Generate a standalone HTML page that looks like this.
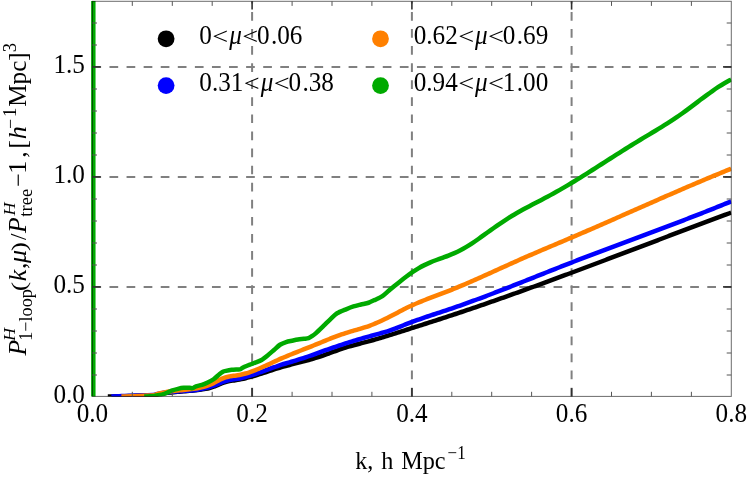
<!DOCTYPE html>
<html><head><meta charset="utf-8"><title>plot</title>
<style>
html,body{margin:0;padding:0;background:#fff;}
body{width:747px;height:478px;overflow:hidden;}
svg{display:block;}
text{font-family:"Liberation Serif",serif;fill:#000;}
.i{font-style:italic;}
</style></head><body>
<svg width="747" height="478" viewBox="0 0 747 478">
<rect x="0" y="0" width="747" height="478" fill="#fff"/>
<defs><clipPath id="c"><rect x="92.4" y="1.3" width="638.9" height="395.1"/></clipPath></defs>

<g stroke="#808080" stroke-width="2" fill="none">
<line x1="92.4" y1="286.9" x2="731.3" y2="286.9" stroke-dasharray="8.7 8.38"/>
<line x1="92.4" y1="176.9" x2="731.3" y2="176.9" stroke-dasharray="8.7 8.38"/>
<line x1="92.4" y1="66.9" x2="731.3" y2="66.9" stroke-dasharray="8.7 8.38"/>
<line x1="252.1" y1="396.4" x2="252.1" y2="1.3" stroke-dasharray="8.7 8.38"/>
<line x1="411.9" y1="396.4" x2="411.9" y2="1.3" stroke-dasharray="8.7 8.38"/>
<line x1="571.6" y1="396.4" x2="571.6" y2="1.3" stroke-dasharray="8.7 8.38"/>
</g>
<g clip-path="url(#c)" fill="none" stroke-width="4.5" stroke-linejoin="round" stroke-linecap="butt">
<path d="M107.80,396.40 C110.29,396.39 116.96,396.43 121.40,396.35 C125.84,396.27 128.08,396.10 132.00,395.95 C135.92,395.80 138.86,395.67 142.80,395.55 C146.74,395.43 150.81,395.50 153.50,395.29 C156.19,395.08 156.03,394.72 157.50,394.43 C158.97,394.14 160.03,393.95 161.50,393.71 C162.97,393.47 164.03,393.31 165.50,393.11 C166.97,392.91 168.03,392.78 169.50,392.62 C170.97,392.45 172.03,392.34 173.50,392.20 C174.97,392.06 176.03,391.96 177.50,391.84 C178.97,391.71 180.03,391.62 181.50,391.50 C182.97,391.38 184.03,391.30 185.50,391.18 C186.97,391.06 188.03,390.97 189.50,390.84 C190.97,390.71 192.03,390.62 193.50,390.47 C194.97,390.32 196.03,390.21 197.50,390.03 C198.97,389.86 200.03,389.73 201.50,389.52 C202.97,389.30 204.03,389.16 205.50,388.88 C206.97,388.60 208.03,388.39 209.50,388.00 C210.97,387.61 212.03,387.29 213.50,386.75 C214.97,386.21 216.03,385.69 217.50,385.07 C218.97,384.44 220.03,383.89 221.50,383.33 C222.97,382.77 224.03,382.40 225.50,381.99 C226.97,381.58 228.03,381.38 229.50,381.11 C230.97,380.83 232.03,380.69 233.50,380.47 C234.97,380.24 236.03,380.11 237.50,379.86 C238.97,379.62 240.03,379.42 241.50,379.12 C242.97,378.82 244.03,378.58 245.50,378.22 C246.97,377.87 248.03,377.59 249.50,377.19 C250.97,376.79 252.03,376.49 253.50,376.05 C254.97,375.62 256.03,375.29 257.50,374.83 C258.97,374.37 260.03,374.03 261.50,373.55 C262.97,373.08 264.03,372.72 265.50,372.24 C266.97,371.76 268.03,371.40 269.50,370.92 C270.97,370.44 272.03,370.09 273.50,369.62 C274.97,369.15 276.03,368.81 277.50,368.36 C278.97,367.91 280.03,367.59 281.50,367.16 C282.97,366.73 284.03,366.44 285.50,366.04 C286.97,365.63 288.03,365.35 289.50,364.97 C290.97,364.58 292.03,364.31 293.50,363.93 C294.97,363.56 296.03,363.29 297.50,362.91 C298.97,362.54 300.03,362.27 301.50,361.89 C302.97,361.51 304.03,361.23 305.50,360.83 C306.97,360.44 308.03,360.15 309.50,359.74 C310.97,359.32 312.03,359.02 313.50,358.58 C314.97,358.13 316.03,357.80 317.50,357.33 C318.97,356.86 320.03,356.50 321.50,356.00 C322.97,355.50 324.03,355.12 325.50,354.60 C326.97,354.09 328.03,353.70 329.50,353.17 C330.97,352.65 332.03,352.26 333.50,351.74 C334.97,351.22 336.03,350.83 337.50,350.32 C338.97,349.81 340.03,349.44 341.50,348.95 C342.97,348.46 344.03,348.11 345.50,347.65 C346.97,347.19 348.03,346.87 349.50,346.44 C350.97,346.01 352.03,345.72 353.50,345.31 C354.97,344.91 356.03,344.63 357.50,344.24 C358.97,343.85 360.03,343.58 361.50,343.19 C362.97,342.81 364.03,342.54 365.50,342.15 C366.97,341.76 368.03,341.48 369.50,341.08 C370.97,340.68 372.03,340.39 373.50,339.98 C374.97,339.56 376.03,339.26 377.50,338.83 C378.97,338.41 380.03,338.09 381.50,337.65 C382.97,337.22 384.03,336.90 385.50,336.45 C386.97,336.00 388.03,335.67 389.50,335.22 C390.97,334.77 392.03,334.43 393.50,333.97 C394.97,333.51 396.03,333.17 397.50,332.71 C398.97,332.24 400.03,331.90 401.50,331.43 C402.97,330.97 404.03,330.62 405.50,330.15 C406.97,329.68 408.03,329.34 409.50,328.87 C410.97,328.40 412.03,328.06 413.50,327.59 C414.97,327.12 416.03,326.78 417.50,326.32 C418.97,325.85 420.03,325.51 421.50,325.04 C422.97,324.57 424.03,324.23 425.50,323.76 C426.97,323.29 428.03,322.95 429.50,322.47 C430.97,322.00 432.03,321.66 433.50,321.19 C434.97,320.72 436.03,320.37 437.50,319.90 C438.97,319.42 440.03,319.08 441.50,318.60 C442.97,318.12 444.03,317.78 445.50,317.30 C446.97,316.82 448.03,316.47 449.50,315.98 C450.97,315.50 452.03,315.15 453.50,314.66 C454.97,314.18 456.03,313.82 457.50,313.33 C458.97,312.84 460.03,312.49 461.50,312.00 C462.97,311.50 464.03,311.15 465.50,310.65 C466.97,310.16 468.03,309.80 469.50,309.30 C470.97,308.80 472.03,308.44 473.50,307.94 C474.97,307.44 476.03,307.07 477.50,306.57 C478.97,306.07 480.03,305.70 481.50,305.20 C482.97,304.69 484.03,304.32 485.50,303.81 C486.97,303.31 488.03,302.94 489.50,302.43 C490.97,301.91 492.03,301.54 493.50,301.03 C494.97,300.52 496.03,300.14 497.50,299.63 C498.97,299.11 500.03,298.74 501.50,298.22 C502.97,297.70 504.03,297.33 505.50,296.81 C506.97,296.29 508.03,295.91 509.50,295.39 C510.97,294.87 512.03,294.48 513.50,293.96 C514.97,293.44 516.03,293.06 517.50,292.53 C518.97,292.00 520.03,291.62 521.50,291.09 C522.97,290.57 524.03,290.18 525.50,289.65 C526.97,289.12 528.03,288.74 529.50,288.20 C530.97,287.67 532.03,287.29 533.50,286.75 C534.97,286.22 536.03,285.83 537.50,285.30 C538.97,284.76 540.03,284.37 541.50,283.83 C542.97,283.30 544.03,282.91 545.50,282.37 C546.97,281.83 548.03,281.44 549.50,280.90 C550.97,280.36 552.03,279.97 553.50,279.43 C554.97,278.88 556.03,278.49 557.50,277.95 C558.97,277.41 560.03,277.01 561.50,276.47 C562.97,275.92 564.03,275.53 565.50,274.98 C566.97,274.44 568.03,274.04 569.50,273.49 C570.97,272.95 572.03,272.55 573.50,272.00 C574.97,271.46 576.03,271.06 577.50,270.51 C578.97,269.96 580.03,269.56 581.50,269.01 C582.97,268.46 584.03,268.06 585.50,267.51 C586.97,266.96 588.03,266.56 589.50,266.01 C590.97,265.46 592.03,265.06 593.50,264.50 C594.97,263.95 596.03,263.55 597.50,263.00 C598.97,262.45 600.03,262.04 601.50,261.49 C602.97,260.94 604.03,260.53 605.50,259.98 C606.97,259.43 608.03,259.02 609.50,258.47 C610.97,257.91 612.03,257.51 613.50,256.95 C614.97,256.40 616.03,256.00 617.50,255.44 C618.97,254.89 620.03,254.48 621.50,253.93 C622.97,253.37 624.03,252.96 625.50,252.41 C626.97,251.85 628.03,251.45 629.50,250.89 C630.97,250.34 632.03,249.93 633.50,249.37 C634.97,248.82 636.03,248.41 637.50,247.86 C638.97,247.30 640.03,246.89 641.50,246.34 C642.97,245.78 644.03,245.38 645.50,244.82 C646.97,244.26 648.03,243.86 649.50,243.30 C650.97,242.75 652.03,242.34 653.50,241.78 C654.97,241.23 656.03,240.82 657.50,240.27 C658.97,239.71 660.03,239.31 661.50,238.75 C662.97,238.19 664.03,237.79 665.50,237.23 C666.97,236.68 668.03,236.28 669.50,235.72 C670.97,235.16 672.03,234.76 673.50,234.21 C674.97,233.65 676.03,233.25 677.50,232.69 C678.97,232.14 680.03,231.74 681.50,231.18 C682.97,230.63 684.03,230.23 685.50,229.68 C686.97,229.12 688.03,228.72 689.50,228.17 C690.97,227.62 692.03,227.22 693.50,226.66 C694.97,226.11 696.03,225.71 697.50,225.16 C698.97,224.61 700.03,224.21 701.50,223.66 C702.97,223.11 704.03,222.71 705.50,222.16 C706.97,221.62 708.03,221.22 709.50,220.67 C710.97,220.12 712.03,219.72 713.50,219.18 C714.97,218.63 716.03,218.23 717.50,217.69 C718.97,217.14 720.03,216.75 721.50,216.20 C722.97,215.66 724.03,215.26 725.50,214.72 C726.97,214.18 728.46,213.63 729.50,213.24 C730.54,212.86 730.89,212.73 731.20,212.62" stroke="#000"/>
<path d="M111.40,396.40 C113.23,396.34 117.62,396.24 121.40,396.10 C125.18,395.96 128.08,395.81 132.00,395.65 C135.92,395.49 138.86,395.37 142.80,395.25 C146.74,395.13 150.81,395.25 153.50,395.01 C156.19,394.78 156.03,394.33 157.50,393.99 C158.97,393.66 160.03,393.45 161.50,393.19 C162.97,392.93 164.03,392.77 165.50,392.57 C166.97,392.36 168.03,392.24 169.50,392.09 C170.97,391.93 172.03,391.84 173.50,391.72 C174.97,391.59 176.03,391.52 177.50,391.41 C178.97,391.31 180.03,391.24 181.50,391.15 C182.97,391.05 184.03,390.98 185.50,390.87 C186.97,390.77 188.03,390.69 189.50,390.56 C190.97,390.43 192.03,390.33 193.50,390.17 C194.97,390.00 196.03,389.88 197.50,389.66 C198.97,389.45 200.03,389.28 201.50,389.00 C202.97,388.73 204.03,388.51 205.50,388.16 C206.97,387.80 208.03,387.52 209.50,387.07 C210.97,386.62 212.03,386.25 213.50,385.70 C214.97,385.15 216.03,384.66 217.50,384.05 C218.97,383.45 220.03,382.95 221.50,382.39 C222.97,381.83 224.03,381.45 225.50,381.02 C226.97,380.59 228.03,380.34 229.50,380.03 C230.97,379.72 232.03,379.58 233.50,379.34 C234.97,379.11 236.03,379.00 237.50,378.76 C238.97,378.51 240.03,378.32 241.50,378.01 C242.97,377.70 244.03,377.44 245.50,377.06 C246.97,376.68 248.03,376.38 249.50,375.94 C250.97,375.51 252.03,375.17 253.50,374.69 C254.97,374.21 256.03,373.84 257.50,373.33 C258.97,372.82 260.03,372.43 261.50,371.90 C262.97,371.36 264.03,370.96 265.50,370.42 C266.97,369.88 268.03,369.48 269.50,368.93 C270.97,368.39 272.03,368.00 273.50,367.47 C274.97,366.94 276.03,366.56 277.50,366.06 C278.97,365.55 280.03,365.20 281.50,364.73 C282.97,364.26 284.03,363.93 285.50,363.49 C286.97,363.04 288.03,362.73 289.50,362.30 C290.97,361.87 292.03,361.57 293.50,361.14 C294.97,360.71 296.03,360.40 297.50,359.95 C298.97,359.51 300.03,359.19 301.50,358.72 C302.97,358.26 304.03,357.91 305.50,357.41 C306.97,356.91 308.03,356.53 309.50,356.00 C310.97,355.48 312.03,355.09 313.50,354.55 C314.97,354.02 316.03,353.62 317.50,353.09 C318.97,352.56 320.03,352.17 321.50,351.65 C322.97,351.13 324.03,350.75 325.50,350.23 C326.97,349.71 328.03,349.34 329.50,348.83 C330.97,348.32 332.03,347.96 333.50,347.46 C334.97,346.96 336.03,346.60 337.50,346.11 C338.97,345.62 340.03,345.26 341.50,344.78 C342.97,344.30 344.03,343.95 345.50,343.48 C346.97,343.01 348.03,342.67 349.50,342.21 C350.97,341.75 352.03,341.42 353.50,340.97 C354.97,340.52 356.03,340.19 357.50,339.75 C358.97,339.31 360.03,339.00 361.50,338.57 C362.97,338.14 364.03,337.83 365.50,337.42 C366.97,337.00 368.03,336.70 369.50,336.30 C370.97,335.89 372.03,335.60 373.50,335.20 C374.97,334.80 376.03,334.51 377.50,334.10 C378.97,333.70 380.03,333.40 381.50,332.98 C382.97,332.55 384.03,332.24 385.50,331.79 C386.97,331.34 388.03,331.00 389.50,330.51 C390.97,330.02 392.03,329.65 393.50,329.12 C394.97,328.59 396.03,328.18 397.50,327.62 C398.97,327.05 400.03,326.62 401.50,326.04 C402.97,325.46 404.03,325.03 405.50,324.45 C406.97,323.87 408.03,323.45 409.50,322.89 C410.97,322.32 412.03,321.92 413.50,321.38 C414.97,320.84 416.03,320.46 417.50,319.94 C418.97,319.41 420.03,319.04 421.50,318.54 C422.97,318.03 424.03,317.67 425.50,317.17 C426.97,316.68 428.03,316.32 429.50,315.83 C430.97,315.35 432.03,315.00 433.50,314.51 C434.97,314.03 436.03,313.68 437.50,313.20 C438.97,312.72 440.03,312.37 441.50,311.89 C442.97,311.40 444.03,311.05 445.50,310.56 C446.97,310.07 448.03,309.71 449.50,309.22 C450.97,308.72 452.03,308.36 453.50,307.85 C454.97,307.35 456.03,306.98 457.50,306.46 C458.97,305.95 460.03,305.58 461.50,305.06 C462.97,304.54 464.03,304.16 465.50,303.63 C466.97,303.11 468.03,302.72 469.50,302.19 C470.97,301.66 472.03,301.27 473.50,300.73 C474.97,300.20 476.03,299.80 477.50,299.26 C478.97,298.72 480.03,298.32 481.50,297.77 C482.97,297.22 484.03,296.82 485.50,296.27 C486.97,295.72 488.03,295.31 489.50,294.75 C490.97,294.20 492.03,293.79 493.50,293.23 C494.97,292.67 496.03,292.26 497.50,291.69 C498.97,291.13 500.03,290.71 501.50,290.14 C502.97,289.58 504.03,289.16 505.50,288.59 C506.97,288.02 508.03,287.60 509.50,287.03 C510.97,286.45 512.03,286.03 513.50,285.46 C514.97,284.88 516.03,284.46 517.50,283.88 C518.97,283.30 520.03,282.88 521.50,282.30 C522.97,281.72 524.03,281.30 525.50,280.72 C526.97,280.14 528.03,279.71 529.50,279.13 C530.97,278.55 532.03,278.12 533.50,277.54 C534.97,276.96 536.03,276.53 537.50,275.95 C538.97,275.37 540.03,274.94 541.50,274.36 C542.97,273.78 544.03,273.35 545.50,272.77 C546.97,272.19 548.03,271.77 549.50,271.18 C550.97,270.60 552.03,270.18 553.50,269.60 C554.97,269.02 556.03,268.60 557.50,268.02 C558.97,267.44 560.03,267.02 561.50,266.45 C562.97,265.87 564.03,265.45 565.50,264.88 C566.97,264.30 568.03,263.88 569.50,263.31 C570.97,262.74 572.03,262.33 573.50,261.76 C574.97,261.19 576.03,260.78 577.50,260.21 C578.97,259.65 580.03,259.24 581.50,258.67 C582.97,258.11 584.03,257.70 585.50,257.14 C586.97,256.58 588.03,256.17 589.50,255.61 C590.97,255.06 592.03,254.65 593.50,254.09 C594.97,253.54 596.03,253.13 597.50,252.58 C598.97,252.02 600.03,251.62 601.50,251.07 C602.97,250.52 604.03,250.12 605.50,249.56 C606.97,249.01 608.03,248.61 609.50,248.06 C610.97,247.51 612.03,247.11 613.50,246.56 C614.97,246.01 616.03,245.61 617.50,245.07 C618.97,244.52 620.03,244.12 621.50,243.57 C622.97,243.03 624.03,242.63 625.50,242.08 C626.97,241.53 628.03,241.14 629.50,240.59 C630.97,240.04 632.03,239.64 633.50,239.10 C634.97,238.55 636.03,238.15 637.50,237.61 C638.97,237.06 640.03,236.66 641.50,236.12 C642.97,235.57 644.03,235.17 645.50,234.62 C646.97,234.08 648.03,233.68 649.50,233.13 C650.97,232.58 652.03,232.18 653.50,231.63 C654.97,231.08 656.03,230.68 657.50,230.13 C658.97,229.58 660.03,229.18 661.50,228.63 C662.97,228.08 664.03,227.68 665.50,227.12 C666.97,226.57 668.03,226.17 669.50,225.61 C670.97,225.06 672.03,224.65 673.50,224.10 C674.97,223.54 676.03,223.13 677.50,222.58 C678.97,222.02 680.03,221.61 681.50,221.05 C682.97,220.49 684.03,220.08 685.50,219.51 C686.97,218.95 688.03,218.54 689.50,217.97 C690.97,217.41 692.03,217.00 693.50,216.43 C694.97,215.86 696.03,215.44 697.50,214.87 C698.97,214.30 700.03,213.88 701.50,213.30 C702.97,212.73 704.03,212.31 705.50,211.73 C706.97,211.15 708.03,210.73 709.50,210.15 C710.97,209.56 712.03,209.14 713.50,208.55 C714.97,207.96 716.03,207.54 717.50,206.95 C718.97,206.36 720.03,205.92 721.50,205.33 C722.97,204.73 724.03,204.30 725.50,203.70 C726.97,203.10 728.46,202.49 729.50,202.06 C730.54,201.63 730.89,201.49 731.20,201.36" stroke="#0000ff"/>
<path d="M121.40,396.40 C123.34,396.37 128.08,396.39 132.00,396.25 C135.92,396.11 138.86,395.82 142.80,395.65 C146.74,395.48 150.81,395.62 153.50,395.32 C156.19,395.02 156.03,394.46 157.50,394.03 C158.97,393.60 160.03,393.33 161.50,392.99 C162.97,392.65 164.03,392.44 165.50,392.17 C166.97,391.90 168.03,391.73 169.50,391.52 C170.97,391.30 172.03,391.17 173.50,391.00 C174.97,390.82 176.03,390.71 177.50,390.56 C178.97,390.41 180.03,390.31 181.50,390.16 C182.97,390.02 184.03,389.92 185.50,389.77 C186.97,389.62 188.03,389.51 189.50,389.34 C190.97,389.16 192.03,389.03 193.50,388.82 C194.97,388.60 196.03,388.44 197.50,388.17 C198.97,387.91 200.03,387.70 201.50,387.36 C202.97,387.02 204.03,386.76 205.50,386.32 C206.97,385.89 208.03,385.55 209.50,384.98 C210.97,384.41 212.03,383.93 213.50,383.21 C214.97,382.48 216.03,381.81 217.50,381.01 C218.97,380.21 220.03,379.54 221.50,378.86 C222.97,378.18 224.03,377.76 225.50,377.31 C226.97,376.86 228.03,376.67 229.50,376.40 C230.97,376.13 232.03,376.04 233.50,375.83 C234.97,375.63 236.03,375.53 237.50,375.29 C238.97,375.05 240.03,374.85 241.50,374.53 C242.97,374.20 244.03,373.92 245.50,373.50 C246.97,373.09 248.03,372.75 249.50,372.26 C250.97,371.77 252.03,371.38 253.50,370.83 C254.97,370.28 256.03,369.85 257.50,369.25 C258.97,368.65 260.03,368.19 261.50,367.55 C262.97,366.91 264.03,366.42 265.50,365.76 C266.97,365.09 268.03,364.60 269.50,363.92 C270.97,363.24 272.03,362.74 273.50,362.06 C274.97,361.38 276.03,360.89 277.50,360.22 C278.97,359.55 280.03,359.07 281.50,358.43 C282.97,357.78 284.03,357.33 285.50,356.70 C286.97,356.08 288.03,355.64 289.50,355.03 C290.97,354.43 292.03,354.00 293.50,353.40 C294.97,352.81 296.03,352.39 297.50,351.81 C298.97,351.23 300.03,350.81 301.50,350.23 C302.97,349.66 304.03,349.24 305.50,348.67 C306.97,348.09 308.03,347.67 309.50,347.09 C310.97,346.52 312.03,346.09 313.50,345.51 C314.97,344.92 316.03,344.49 317.50,343.89 C318.97,343.30 320.03,342.86 321.50,342.25 C322.97,341.65 324.03,341.21 325.50,340.61 C326.97,340.01 328.03,339.57 329.50,338.98 C330.97,338.39 332.03,337.96 333.50,337.39 C334.97,336.82 336.03,336.41 337.50,335.86 C338.97,335.31 340.03,334.92 341.50,334.41 C342.97,333.90 344.03,333.54 345.50,333.06 C346.97,332.59 348.03,332.27 349.50,331.83 C350.97,331.39 352.03,331.09 353.50,330.67 C354.97,330.26 356.03,329.97 357.50,329.55 C358.97,329.13 360.03,328.83 361.50,328.39 C362.97,327.95 364.03,327.63 365.50,327.15 C366.97,326.67 368.03,326.31 369.50,325.78 C370.97,325.24 372.03,324.83 373.50,324.24 C374.97,323.64 376.03,323.19 377.50,322.55 C378.97,321.90 380.03,321.41 381.50,320.73 C382.97,320.04 384.03,319.53 385.50,318.81 C386.97,318.09 388.03,317.55 389.50,316.80 C390.97,316.05 392.03,315.50 393.50,314.73 C394.97,313.97 396.03,313.41 397.50,312.64 C398.97,311.87 400.03,311.31 401.50,310.55 C402.97,309.79 404.03,309.24 405.50,308.51 C406.97,307.78 408.03,307.25 409.50,306.56 C410.97,305.86 412.03,305.38 413.50,304.72 C414.97,304.06 416.03,303.60 417.50,302.98 C418.97,302.36 420.03,301.92 421.50,301.32 C422.97,300.73 424.03,300.31 425.50,299.73 C426.97,299.16 428.03,298.75 429.50,298.19 C430.97,297.63 432.03,297.23 433.50,296.68 C434.97,296.12 436.03,295.73 437.50,295.18 C438.97,294.63 440.03,294.23 441.50,293.67 C442.97,293.12 444.03,292.71 445.50,292.14 C446.97,291.58 448.03,291.16 449.50,290.58 C450.97,290.00 452.03,289.57 453.50,288.98 C454.97,288.39 456.03,287.95 457.50,287.34 C458.97,286.74 460.03,286.29 461.50,285.67 C462.97,285.05 464.03,284.60 465.50,283.97 C466.97,283.35 468.03,282.88 469.50,282.25 C470.97,281.61 472.03,281.15 473.50,280.50 C474.97,279.86 476.03,279.39 477.50,278.73 C478.97,278.08 480.03,277.61 481.50,276.95 C482.97,276.30 484.03,275.82 485.50,275.16 C486.97,274.50 488.03,274.01 489.50,273.35 C490.97,272.69 492.03,272.20 493.50,271.54 C494.97,270.87 496.03,270.39 497.50,269.72 C498.97,269.05 500.03,268.57 501.50,267.90 C502.97,267.24 504.03,266.75 505.50,266.09 C506.97,265.43 508.03,264.94 509.50,264.28 C510.97,263.62 512.03,263.14 513.50,262.48 C514.97,261.83 516.03,261.35 517.50,260.70 C518.97,260.05 520.03,259.57 521.50,258.93 C522.97,258.28 524.03,257.81 525.50,257.17 C526.97,256.53 528.03,256.07 529.50,255.43 C530.97,254.80 532.03,254.34 533.50,253.71 C534.97,253.08 536.03,252.62 537.50,251.99 C538.97,251.37 540.03,250.91 541.50,250.29 C542.97,249.66 544.03,249.21 545.50,248.59 C546.97,247.96 548.03,247.51 549.50,246.89 C550.97,246.27 552.03,245.82 553.50,245.20 C554.97,244.58 556.03,244.13 557.50,243.51 C558.97,242.89 560.03,242.44 561.50,241.82 C562.97,241.20 564.03,240.75 565.50,240.13 C566.97,239.50 568.03,239.05 569.50,238.43 C570.97,237.80 572.03,237.35 573.50,236.72 C574.97,236.09 576.03,235.64 577.50,235.01 C578.97,234.38 580.03,233.92 581.50,233.29 C582.97,232.65 584.03,232.19 585.50,231.56 C586.97,230.92 588.03,230.46 589.50,229.83 C590.97,229.19 592.03,228.72 593.50,228.09 C594.97,227.45 596.03,226.98 597.50,226.34 C598.97,225.70 600.03,225.24 601.50,224.59 C602.97,223.95 604.03,223.48 605.50,222.84 C606.97,222.20 608.03,221.73 609.50,221.09 C610.97,220.44 612.03,219.97 613.50,219.33 C614.97,218.68 616.03,218.21 617.50,217.56 C618.97,216.92 620.03,216.45 621.50,215.80 C622.97,215.16 624.03,214.68 625.50,214.04 C626.97,213.39 628.03,212.92 629.50,212.27 C630.97,211.62 632.03,211.15 633.50,210.51 C634.97,209.86 636.03,209.39 637.50,208.74 C638.97,208.09 640.03,207.62 641.50,206.98 C642.97,206.33 644.03,205.86 645.50,205.21 C646.97,204.57 648.03,204.10 649.50,203.45 C650.97,202.81 652.03,202.34 653.50,201.69 C654.97,201.05 656.03,200.58 657.50,199.94 C658.97,199.29 660.03,198.83 661.50,198.18 C662.97,197.54 664.03,197.08 665.50,196.43 C666.97,195.79 668.03,195.33 669.50,194.69 C670.97,194.05 672.03,193.59 673.50,192.95 C674.97,192.31 676.03,191.85 677.50,191.22 C678.97,190.58 680.03,190.12 681.50,189.49 C682.97,188.86 684.03,188.40 685.50,187.77 C686.97,187.14 688.03,186.68 689.50,186.05 C690.97,185.43 692.03,184.97 693.50,184.35 C694.97,183.72 696.03,183.27 697.50,182.65 C698.97,182.03 700.03,181.58 701.50,180.96 C702.97,180.34 704.03,179.89 705.50,179.28 C706.97,178.66 708.03,178.22 709.50,177.61 C710.97,177.00 712.03,176.55 713.50,175.95 C714.97,175.34 716.03,174.90 717.50,174.30 C718.97,173.69 720.03,173.26 721.50,172.66 C722.97,172.06 724.03,171.62 725.50,171.03 C726.97,170.44 728.46,169.84 729.50,169.42 C730.54,168.99 730.89,168.86 731.20,168.73" stroke="#ff8000"/>
<path d="M144.20,396.40 C144.97,396.39 148.56,396.44 150.00,396.35 C151.44,396.26 153.71,395.92 155.00,395.75 C156.29,395.58 158.57,395.26 159.70,395.05 C160.83,394.84 162.59,394.43 163.50,394.15 C164.41,393.87 165.42,393.42 166.50,392.95 C167.58,392.48 170.08,391.20 171.60,390.65 C173.12,390.10 176.29,389.22 177.90,388.85 C179.51,388.48 182.14,387.98 183.70,387.85 C185.26,387.72 188.43,387.81 189.60,387.85 C190.77,387.89 191.65,388.35 192.50,388.15 C193.35,387.95 194.75,386.79 196.00,386.35 C197.25,385.91 200.34,385.37 201.90,384.85 C203.46,384.33 206.14,383.20 207.70,382.45 C209.26,381.70 212.04,380.34 213.60,379.25 C215.16,378.16 218.16,375.25 219.40,374.25 C220.64,373.25 222.03,372.20 222.90,371.75 C223.77,371.30 224.73,371.10 225.90,370.85 C227.07,370.60 230.14,370.04 231.70,369.85 C233.26,369.66 236.43,369.53 237.60,369.45 C238.77,369.37 239.70,369.56 240.50,369.25 C241.30,368.94 242.35,367.78 243.60,367.15 C244.85,366.52 248.27,365.18 249.90,364.55 C251.53,363.92 254.24,363.06 255.80,362.45 C257.36,361.84 260.03,360.88 261.60,359.95 C263.17,359.02 265.95,356.78 267.60,355.45 C269.25,354.12 272.35,351.38 274.00,349.95 C275.65,348.52 278.39,345.80 280.00,344.75 C281.61,343.70 284.50,342.58 286.10,342.05 C287.70,341.52 290.41,341.08 292.00,340.75 C293.59,340.42 296.40,339.81 298.00,339.55 C299.60,339.29 302.59,339.00 304.00,338.80 C305.41,338.60 307.49,338.43 308.60,338.05 C309.71,337.67 311.31,336.62 312.30,335.95 C313.29,335.28 314.51,334.40 316.00,333.05 C317.49,331.70 321.50,327.78 323.50,325.85 C325.50,323.92 329.19,320.23 331.00,318.55 C332.81,316.87 335.10,314.48 337.10,313.25 C339.10,312.02 343.81,310.21 346.00,309.30 C348.19,308.39 351.50,307.08 353.50,306.45 C355.50,305.82 358.99,305.04 361.00,304.55 C363.01,304.06 366.73,303.38 368.60,302.75 C370.47,302.12 373.16,300.74 375.00,299.85 C376.84,298.96 380.61,297.28 382.40,296.11 C384.19,294.94 386.80,292.40 388.40,291.06 C390.00,289.71 392.80,287.35 394.40,286.03 C396.00,284.71 398.80,282.41 400.40,281.14 C402.00,279.86 404.80,277.68 406.40,276.49 C408.00,275.30 410.80,273.28 412.40,272.20 C414.00,271.12 416.80,269.32 418.40,268.38 C420.00,267.43 422.80,265.92 424.40,265.13 C426.00,264.33 428.80,263.08 430.40,262.40 C432.00,261.72 434.80,260.63 436.40,260.02 C438.00,259.41 440.80,258.39 442.40,257.80 C444.00,257.20 446.80,256.18 448.40,255.55 C450.00,254.92 452.80,253.80 454.40,253.09 C456.00,252.39 458.80,251.07 460.40,250.24 C462.00,249.42 464.80,247.83 466.40,246.88 C468.00,245.92 470.80,244.13 472.40,243.08 C474.00,242.02 476.80,240.09 478.40,238.97 C480.00,237.86 482.80,235.85 484.40,234.70 C486.00,233.55 488.80,231.52 490.40,230.38 C492.00,229.24 494.80,227.25 496.40,226.14 C498.00,225.03 500.80,223.11 502.40,222.05 C504.00,220.98 506.80,219.16 508.40,218.15 C510.00,217.14 512.80,215.44 514.40,214.50 C516.00,213.55 518.80,211.95 520.40,211.06 C522.00,210.16 524.80,208.64 526.40,207.78 C528.00,206.92 530.80,205.44 532.40,204.60 C534.00,203.76 536.80,202.31 538.40,201.48 C540.00,200.64 542.80,199.19 544.40,198.34 C546.00,197.50 548.80,196.01 550.40,195.14 C552.00,194.27 554.80,192.73 556.40,191.83 C558.00,190.93 560.80,189.32 562.40,188.40 C564.00,187.47 566.80,185.82 568.40,184.86 C570.00,183.91 572.80,182.22 574.40,181.24 C576.00,180.27 578.80,178.54 580.40,177.55 C582.00,176.56 584.80,174.80 586.40,173.80 C588.00,172.79 590.80,171.02 592.40,170.00 C594.00,168.99 596.80,167.20 598.40,166.18 C600.00,165.16 602.80,163.37 604.40,162.34 C606.00,161.32 608.80,159.53 610.40,158.51 C612.00,157.48 614.80,155.70 616.40,154.68 C618.00,153.66 620.80,151.88 622.40,150.88 C624.00,149.87 626.80,148.10 628.40,147.11 C630.00,146.11 632.80,144.37 634.40,143.38 C636.00,142.40 638.80,140.69 640.40,139.72 C642.00,138.75 644.80,137.07 646.40,136.11 C648.00,135.15 650.80,133.48 652.40,132.52 C654.00,131.56 656.80,129.88 658.40,128.90 C660.00,127.93 662.80,126.21 664.40,125.21 C666.00,124.22 668.80,122.44 670.40,121.40 C672.00,120.37 674.80,118.52 676.40,117.43 C678.00,116.34 680.80,114.38 682.40,113.24 C684.00,112.10 686.80,110.04 688.40,108.85 C690.00,107.66 692.80,105.55 694.40,104.35 C696.00,103.14 698.80,101.02 700.40,99.82 C702.00,98.62 704.80,96.52 706.40,95.35 C708.00,94.18 710.80,92.16 712.40,91.05 C714.00,89.93 716.80,88.02 718.40,86.98 C720.00,85.94 722.80,84.19 724.40,83.26 C726.00,82.32 729.49,80.45 730.40,79.96 C731.31,79.46 731.09,79.61 731.20,79.55" stroke="#00aa00"/>
</g>
<line x1="93.35" y1="1.0" x2="93.35" y2="396.4" stroke="#00aa00" stroke-width="4.4"/>
<g stroke="#000" stroke-opacity="0.58" stroke-width="1" fill="none">
<rect x="92.4" y="1.3" width="638.9" height="395.1"/>
</g>
<line x1="132.3" y1="396.4" x2="132.3" y2="391.8" stroke="#555" stroke-width="1"/>
<line x1="132.3" y1="1.3" x2="132.3" y2="5.9" stroke="#555" stroke-width="1"/>
<line x1="172.3" y1="396.4" x2="172.3" y2="391.8" stroke="#555" stroke-width="1"/>
<line x1="172.3" y1="1.3" x2="172.3" y2="5.9" stroke="#555" stroke-width="1"/>
<line x1="212.2" y1="396.4" x2="212.2" y2="391.8" stroke="#555" stroke-width="1"/>
<line x1="212.2" y1="1.3" x2="212.2" y2="5.9" stroke="#555" stroke-width="1"/>
<line x1="252.1" y1="396.4" x2="252.1" y2="388.1" stroke="#303030" stroke-width="1.6"/>
<line x1="252.1" y1="1.3" x2="252.1" y2="9.6" stroke="#303030" stroke-width="1.6"/>
<line x1="292.1" y1="396.4" x2="292.1" y2="391.8" stroke="#555" stroke-width="1"/>
<line x1="292.1" y1="1.3" x2="292.1" y2="5.9" stroke="#555" stroke-width="1"/>
<line x1="332.0" y1="396.4" x2="332.0" y2="391.8" stroke="#555" stroke-width="1"/>
<line x1="332.0" y1="1.3" x2="332.0" y2="5.9" stroke="#555" stroke-width="1"/>
<line x1="371.9" y1="396.4" x2="371.9" y2="391.8" stroke="#555" stroke-width="1"/>
<line x1="371.9" y1="1.3" x2="371.9" y2="5.9" stroke="#555" stroke-width="1"/>
<line x1="411.9" y1="396.4" x2="411.9" y2="388.1" stroke="#303030" stroke-width="1.6"/>
<line x1="411.9" y1="1.3" x2="411.9" y2="9.6" stroke="#303030" stroke-width="1.6"/>
<line x1="451.8" y1="396.4" x2="451.8" y2="391.8" stroke="#555" stroke-width="1"/>
<line x1="451.8" y1="1.3" x2="451.8" y2="5.9" stroke="#555" stroke-width="1"/>
<line x1="491.7" y1="396.4" x2="491.7" y2="391.8" stroke="#555" stroke-width="1"/>
<line x1="491.7" y1="1.3" x2="491.7" y2="5.9" stroke="#555" stroke-width="1"/>
<line x1="531.6" y1="396.4" x2="531.6" y2="391.8" stroke="#555" stroke-width="1"/>
<line x1="531.6" y1="1.3" x2="531.6" y2="5.9" stroke="#555" stroke-width="1"/>
<line x1="571.6" y1="396.4" x2="571.6" y2="388.1" stroke="#303030" stroke-width="1.6"/>
<line x1="571.6" y1="1.3" x2="571.6" y2="9.6" stroke="#303030" stroke-width="1.6"/>
<line x1="611.5" y1="396.4" x2="611.5" y2="391.8" stroke="#555" stroke-width="1"/>
<line x1="611.5" y1="1.3" x2="611.5" y2="5.9" stroke="#555" stroke-width="1"/>
<line x1="651.4" y1="396.4" x2="651.4" y2="391.8" stroke="#555" stroke-width="1"/>
<line x1="651.4" y1="1.3" x2="651.4" y2="5.9" stroke="#555" stroke-width="1"/>
<line x1="691.4" y1="396.4" x2="691.4" y2="391.8" stroke="#555" stroke-width="1"/>
<line x1="691.4" y1="1.3" x2="691.4" y2="5.9" stroke="#555" stroke-width="1"/>
<line x1="92.4" y1="375.0" x2="97.0" y2="375.0" stroke="#555" stroke-width="1"/>
<line x1="731.3" y1="375.0" x2="726.7" y2="375.0" stroke="#555" stroke-width="1"/>
<line x1="92.4" y1="353.0" x2="97.0" y2="353.0" stroke="#555" stroke-width="1"/>
<line x1="731.3" y1="353.0" x2="726.7" y2="353.0" stroke="#555" stroke-width="1"/>
<line x1="92.4" y1="331.0" x2="97.0" y2="331.0" stroke="#555" stroke-width="1"/>
<line x1="731.3" y1="331.0" x2="726.7" y2="331.0" stroke="#555" stroke-width="1"/>
<line x1="92.4" y1="309.0" x2="97.0" y2="309.0" stroke="#555" stroke-width="1"/>
<line x1="731.3" y1="309.0" x2="726.7" y2="309.0" stroke="#555" stroke-width="1"/>
<line x1="92.4" y1="286.9" x2="100.7" y2="286.9" stroke="#303030" stroke-width="1.6"/>
<line x1="731.3" y1="286.9" x2="723.0" y2="286.9" stroke="#303030" stroke-width="1.6"/>
<line x1="92.4" y1="265.0" x2="97.0" y2="265.0" stroke="#555" stroke-width="1"/>
<line x1="731.3" y1="265.0" x2="726.7" y2="265.0" stroke="#555" stroke-width="1"/>
<line x1="92.4" y1="243.0" x2="97.0" y2="243.0" stroke="#555" stroke-width="1"/>
<line x1="731.3" y1="243.0" x2="726.7" y2="243.0" stroke="#555" stroke-width="1"/>
<line x1="92.4" y1="221.0" x2="97.0" y2="221.0" stroke="#555" stroke-width="1"/>
<line x1="731.3" y1="221.0" x2="726.7" y2="221.0" stroke="#555" stroke-width="1"/>
<line x1="92.4" y1="199.0" x2="97.0" y2="199.0" stroke="#555" stroke-width="1"/>
<line x1="731.3" y1="199.0" x2="726.7" y2="199.0" stroke="#555" stroke-width="1"/>
<line x1="92.4" y1="176.9" x2="100.7" y2="176.9" stroke="#303030" stroke-width="1.6"/>
<line x1="731.3" y1="176.9" x2="723.0" y2="176.9" stroke="#303030" stroke-width="1.6"/>
<line x1="92.4" y1="155.0" x2="97.0" y2="155.0" stroke="#555" stroke-width="1"/>
<line x1="731.3" y1="155.0" x2="726.7" y2="155.0" stroke="#555" stroke-width="1"/>
<line x1="92.4" y1="133.0" x2="97.0" y2="133.0" stroke="#555" stroke-width="1"/>
<line x1="731.3" y1="133.0" x2="726.7" y2="133.0" stroke="#555" stroke-width="1"/>
<line x1="92.4" y1="111.0" x2="97.0" y2="111.0" stroke="#555" stroke-width="1"/>
<line x1="731.3" y1="111.0" x2="726.7" y2="111.0" stroke="#555" stroke-width="1"/>
<line x1="92.4" y1="89.0" x2="97.0" y2="89.0" stroke="#555" stroke-width="1"/>
<line x1="731.3" y1="89.0" x2="726.7" y2="89.0" stroke="#555" stroke-width="1"/>
<line x1="92.4" y1="66.9" x2="100.7" y2="66.9" stroke="#303030" stroke-width="1.6"/>
<line x1="731.3" y1="66.9" x2="723.0" y2="66.9" stroke="#303030" stroke-width="1.6"/>
<line x1="92.4" y1="45.0" x2="97.0" y2="45.0" stroke="#555" stroke-width="1"/>
<line x1="731.3" y1="45.0" x2="726.7" y2="45.0" stroke="#555" stroke-width="1"/>
<line x1="92.4" y1="23.0" x2="97.0" y2="23.0" stroke="#555" stroke-width="1"/>
<line x1="731.3" y1="23.0" x2="726.7" y2="23.0" stroke="#555" stroke-width="1"/>
<circle cx="166.1" cy="38.8" r="8.4" fill="#000"/>
<circle cx="166.1" cy="85.6" r="8.4" fill="#0000ff"/>
<circle cx="380.5" cy="38.8" r="8.4" fill="#ff8000"/>
<circle cx="380.5" cy="85.6" r="8.4" fill="#00aa00"/>
<g style="filter:grayscale(1)">
<g font-size="25.2">
<text transform="translate(92.4,422.0) scale(1,1.06)" text-anchor="middle">0.0</text>
<text transform="translate(252.1,422.0) scale(1,1.06)" text-anchor="middle">0.2</text>
<text transform="translate(411.9,422.0) scale(1,1.06)" text-anchor="middle">0.4</text>
<text transform="translate(571.6,422.0) scale(1,1.06)" text-anchor="middle">0.6</text>
<text transform="translate(731.3,422.0) scale(1,1.06)" text-anchor="middle">0.8</text>
<text transform="translate(84.9,403.3) scale(1,1.06)" text-anchor="end">0.0</text>
<text transform="translate(84.9,293.3) scale(1,1.06)" text-anchor="end">0.5</text>
<text transform="translate(84.9,183.3) scale(1,1.06)" text-anchor="end">1.0</text>
<text transform="translate(84.9,73.3) scale(1,1.06)" text-anchor="end">1.5</text>
</g>
<text transform="translate(355.2,468.8) scale(1,1.08)" font-size="24.2" word-spacing="1.8">k, h Mpc</text>
<text transform="translate(447.6,459) scale(1,1.08)" font-size="17">−1</text>
<text transform="translate(199.30,44.4) scale(1,1.06)" font-size="25.2">0</text>
<text transform="translate(212.30,44.4) scale(1.12,0.95)" font-size="25.2">&lt;</text>
<text transform="translate(229.21,44.4) scale(1,1.06)" font-size="25.2" class="i">μ</text>
<text transform="translate(242.16,44.4) scale(1.12,0.95)" font-size="25.2">&lt;</text>
<text transform="translate(256.88,44.4) scale(1,1.06)" font-size="25.2">0<tspan dx="1.4">.06</tspan></text>
<text transform="translate(199.30,91.2) scale(1,1.06)" font-size="25.2">0.31</text>
<text transform="translate(243.80,91.2) scale(1.12,0.95)" font-size="25.2">&lt;</text>
<text transform="translate(260.71,91.2) scale(1,1.06)" font-size="25.2" class="i">μ</text>
<text transform="translate(273.66,91.2) scale(1.12,0.95)" font-size="25.2">&lt;</text>
<text transform="translate(288.38,91.2) scale(1,1.06)" font-size="25.2">0<tspan dx="1.4">.38</tspan></text>
<text transform="translate(413.70,44.4) scale(1,1.06)" font-size="25.2">0.62</text>
<text transform="translate(458.20,44.4) scale(1.12,0.95)" font-size="25.2">&lt;</text>
<text transform="translate(475.11,44.4) scale(1,1.06)" font-size="25.2" class="i">μ</text>
<text transform="translate(488.06,44.4) scale(1.12,0.95)" font-size="25.2">&lt;</text>
<text transform="translate(502.78,44.4) scale(1,1.06)" font-size="25.2">0<tspan dx="1.4">.69</tspan></text>
<text transform="translate(413.70,91.2) scale(1,1.06)" font-size="25.2">0.94</text>
<text transform="translate(458.20,91.2) scale(1.12,0.95)" font-size="25.2">&lt;</text>
<text transform="translate(475.11,91.2) scale(1,1.06)" font-size="25.2" class="i">μ</text>
<text transform="translate(488.06,91.2) scale(1.12,0.95)" font-size="25.2">&lt;</text>
<text transform="translate(502.78,91.2) scale(1,1.06)" font-size="25.2">1<tspan dx="1.4">.00</tspan></text>
<text transform="translate(25.5,355.6) rotate(-90)" font-size="25.8" class="i">P</text>
<text transform="translate(15.2,341.1) rotate(-90) scale(1.07,1)" font-size="16.8" class="i">H</text>
<text transform="translate(32.0,340.8) rotate(-90)" font-size="18.2">1−loop</text>
<text transform="translate(25.5,291.2) rotate(-90) scale(1.3,1)" font-size="21.5">(</text>
<text transform="translate(25.5,281.2) rotate(-90)" font-size="26.0" class="i">k</text>
<text transform="translate(25.5,269.1) rotate(-90)" font-size="26.0">,</text>
<text transform="translate(25.5,262.9) rotate(-90)" font-size="26.0" class="i">μ</text>
<text transform="translate(25.5,251.2) rotate(-90) scale(1.3,1)" font-size="21.5">)</text>
<text transform="translate(25.5,240.1) rotate(-90)" font-size="23">/</text>
<text transform="translate(25.5,233.1) rotate(-90)" font-size="25.8" class="i">P</text>
<text transform="translate(15.2,215.4) rotate(-90) scale(1.07,1)" font-size="16.8" class="i">H</text>
<text transform="translate(32.0,216.7) rotate(-90)" font-size="18.6">tree</text>
<text transform="translate(25.5,186.7) rotate(-90)" font-size="24">−</text>
<text transform="translate(25.5,173.8) rotate(-90)" font-size="26.0">1</text>
<text transform="translate(25.5,157.7) rotate(-90)" font-size="26.0">,</text>
<text transform="translate(25.5,148.7) rotate(-90)" font-size="26.0">[</text>
<text transform="translate(25.5,139.3) rotate(-90)" font-size="26.0" class="i">h</text>
<text transform="translate(15.6,128.7) rotate(-90)" font-size="17.6">−</text>
<text transform="translate(16.2,117.1) rotate(-90)" font-size="18.5">1</text>
<text transform="translate(25.5,106.8) rotate(-90)" font-size="25.2">Mpc</text>
<text transform="translate(25.5,61.1) rotate(-90)" font-size="26.0">]</text>
<text transform="translate(16.0,52.3) rotate(-90)" font-size="18.6">3</text>
</g>
</svg></body></html>
